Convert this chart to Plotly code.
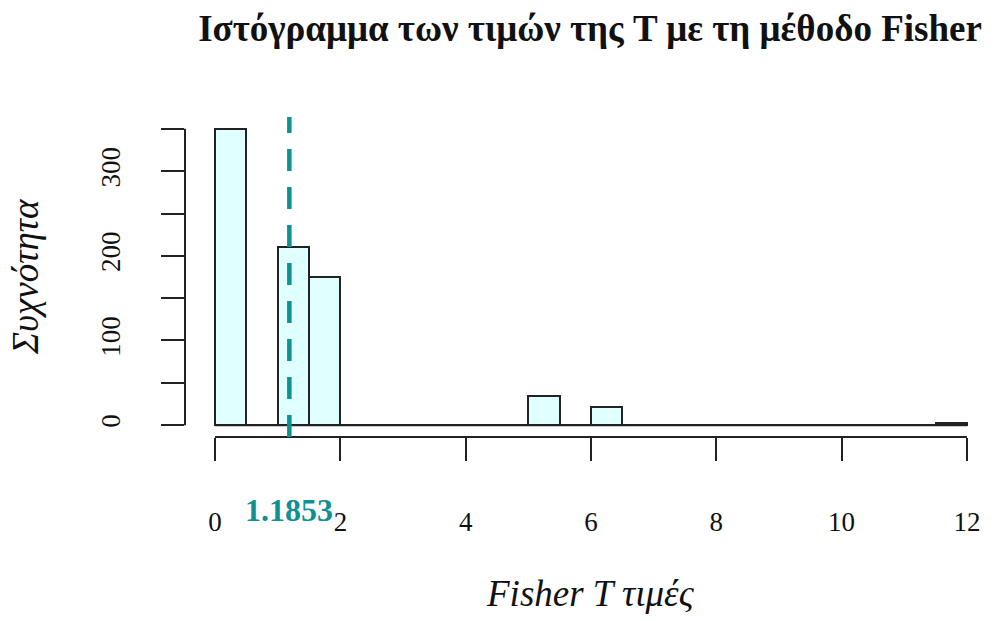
import plotly.graph_objects as go

# Histogram of Fisher T statistic values (bins of width 0.5 from 0 to 12)
bin_edges = [i * 0.5 for i in range(25)]
counts = [350, 0, 210, 175, 0, 0, 0, 0, 0, 0, 35, 0, 22, 0,
          0, 0, 0, 0, 0, 0, 0, 0, 0, 2]
mean_value = 1.1853
x_ticks = [0, 2, 4, 6, 8, 10, 12]
y_ticks = [0, 50, 100, 150, 200, 250, 300, 350]
y_ticktext = ["0", "", "100", "", "200", "", "300", ""]

title_text = "Ιστόγραμμα των τιμών της T με τη μέθοδο Fisher"
x_title = "Fisher T τιμές"
y_title = "Συχνότητα"

FONT = "Liberation Serif"
INK = "#222222"
TEAL = "#0f9192"
FILL = "#E0FFFF"

centers = [(bin_edges[i] + bin_edges[i + 1]) / 2 for i in range(len(counts))]
widths = [bin_edges[i + 1] - bin_edges[i] for i in range(len(counts))]

fig = go.Figure()
fig.add_trace(go.Bar(
    x=centers, y=counts, width=widths,
    marker=dict(color=FILL, line=dict(color=INK, width=2)),
    hoverinfo="x+y", showlegend=False,
))

# Data ranges padded by 4% on each side
xmin, xmax = bin_edges[0], bin_edges[-1]
ymax = max(counts)
xpad = 0.04 * (xmax - xmin)
ypad = 0.04 * ymax
plot_w = 995 - 185
x_per_px = (xmax - xmin + 2 * xpad) / (plot_w + 2)

shapes = [
    # baseline under the empty bins
    dict(type="line", xref="x", yref="y", x0=xmin, x1=xmax, y0=0, y1=0,
         line=dict(color=INK, width=2), layer="above"),
    # x axis line
    dict(type="line", xref="x", yref="paper", x0=xmin, x1=xmax, y0=0, y1=0,
         line=dict(color=INK, width=2)),
    # y axis line
    dict(type="line", xref="paper", yref="y", x0=0, x1=0, y0=0, y1=ymax,
         line=dict(color=INK, width=2)),
    # mean marker
    dict(type="line", xref="x", yref="paper", x0=mean_value, x1=mean_value,
         y0=0, y1=1, line=dict(color=TEAL, width=4.5, dash="22px,16px"),
         layer="above"),
]

annotations = [
    dict(text=f"<b>{mean_value}</b>", xref="x", yref="paper", x=mean_value,
         y=-0.228, xanchor="center", yanchor="middle", showarrow=False,
         font=dict(family=FONT, size=32, color=TEAL)),
    dict(text=x_title, xref="paper", yref="paper", x=0.5, y=-0.4875,
         xanchor="center", yanchor="middle", showarrow=False,
         font=dict(family=FONT, size=37, color="#111111", style="italic")),
    dict(text=y_title, xref="paper", yref="paper", x=-0.1975, y=0.5,
         xanchor="center", yanchor="middle", showarrow=False, textangle=-90,
         font=dict(family=FONT, size=37, color="#111111", style="italic")),
]

fig.update_layout(
    width=995, height=621,
    margin=dict(l=185, r=0, t=117, b=184, pad=0),
    paper_bgcolor="white", plot_bgcolor="white",
    bargap=0,
    title=dict(text=f"<b>{title_text}</b>", x=0.5, xref="paper",
               y=1 - 28 / 621, yref="container", xanchor="center",
               yanchor="middle",
               font=dict(family=FONT, size=37, color="#111111")),
    xaxis=dict(range=[xmin - xpad, xmin - xpad + x_per_px * plot_w],
               tickvals=x_ticks, ticktext=[str(v) for v in x_ticks],
               ticks="outside", ticklen=23, tickwidth=2, tickcolor=INK,
               showline=False, showgrid=False, zeroline=False,
               ticklabelstandoff=38,
               tickfont=dict(family=FONT, size=27, color="#111111")),
    yaxis=dict(range=[-ypad, ymax + ypad],
               tickvals=y_ticks, ticktext=y_ticktext, tickangle=-90,
               ticks="outside", ticklen=23, tickwidth=2, tickcolor=INK,
               showline=False, showgrid=False, zeroline=False,
               ticklabelstandoff=30,
               tickfont=dict(family=FONT, size=27, color="#111111")),
    shapes=shapes,
    annotations=annotations,
)

fig.write_html("out.html")
